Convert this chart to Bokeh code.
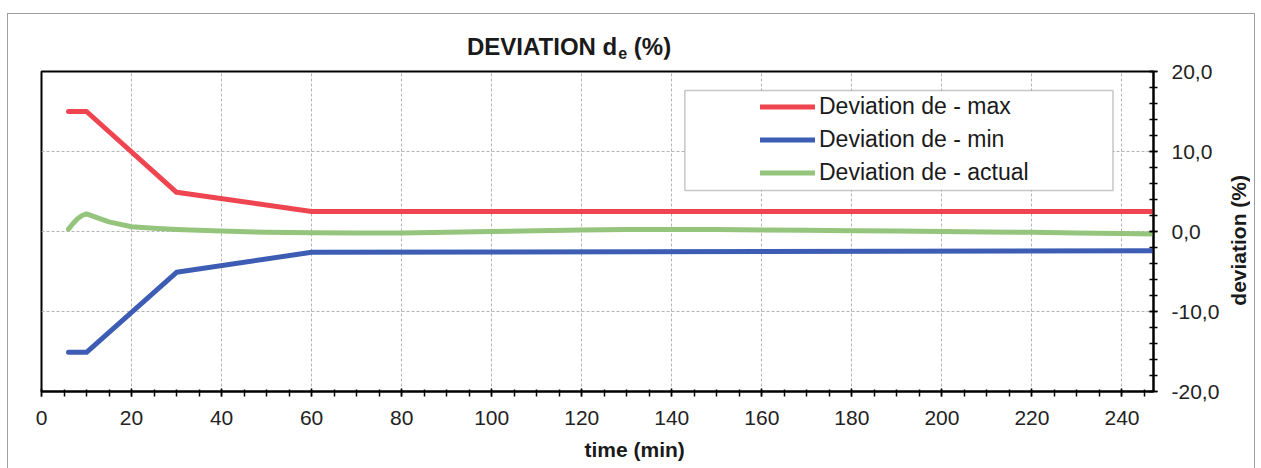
from bokeh.plotting import figure
from bokeh.models import (Range1d, FixedTicker, BoxAnnotation, Legend, LegendItem, Div, Title)
from bokeh.layouts import column, row
from bokeh.embed import file_html
from bokeh.resources import INLINE

# ---- data ----
t_max = [6, 10, 30, 60, 247]
dev_max = [15.0, 15.0, 4.9, 2.5, 2.5]

t_min = [6, 10, 30, 60, 247]
dev_min = [-15.1, -15.1, -5.1, -2.6, -2.4]

t_act = [6, 7, 8, 9, 10, 12, 15, 20, 25, 30, 40, 50, 60, 70, 80, 90, 100, 110, 120,
         130, 140, 150, 160, 170, 180, 190, 200, 210, 220, 230, 240, 247]
dev_act = [0.3, 1.0, 1.6, 2.0, 2.2, 1.8, 1.2, 0.6, 0.4, 0.25, 0.05, -0.1, -0.15, -0.2,
           -0.2, -0.1, 0.0, 0.1, 0.2, 0.25, 0.25, 0.25, 0.2, 0.15, 0.1, 0.05, 0.0,
           -0.05, -0.1, -0.2, -0.25, -0.3]

x_major = list(range(0, 241, 20))
x_minor = list(range(0, 247, 5))
y_major = [-20, -10, 0, 10, 20]
y_minor = list(range(-20, 21, 2))
y_labels = {-20: "-20,0", -10: "-10,0", 0: "0,0", 10: "10,0", 20: "20,0"}

names = ["Deviation de - max", "Deviation de - min", "Deviation de - actual"]
colors = ["#EF4550", "#3D5DB5", "#95C47C"]
title_main, title_sub, title_end = "DEVIATION d", "e", "(%)"
x_title = "time (min)"
y_title = "deviation (%)"

FONT = "Liberation Sans"

p = figure(width=1215, height=409, x_range=Range1d(0, 247), y_range=Range1d(-20, 20),
           y_axis_location="right", output_backend="svg", toolbar_location=None,
           min_border_left=33, min_border_top=12, min_border_right=70, min_border_bottom=77)
p.background_fill_color = "white"
p.border_fill_color = "white"
p.outline_line_color = "black"
p.outline_line_width = 2

# axes
xa = p.xaxis[0]
xa.ticker = FixedTicker(ticks=x_major, minor_ticks=x_minor)
ya = p.yaxis[0]
ya.ticker = FixedTicker(ticks=y_major, minor_ticks=y_minor)
ya.major_label_overrides = y_labels
for ax in (xa, ya):
    ax.axis_line_color = "black"
    ax.axis_line_width = 2
    ax.major_tick_line_color = "black"
    ax.minor_tick_line_color = "black"
    ax.major_tick_line_width = 1.5
    ax.minor_tick_line_width = 1.5
    ax.major_label_text_font = FONT
    ax.major_label_text_font_size = "21px"
    ax.major_label_text_color = "#222222"
xa.major_tick_in = 3
xa.major_tick_out = 5
xa.minor_tick_in = 2
xa.minor_tick_out = 5
xa.major_label_standoff = 14
ya.major_tick_in = 4
ya.major_tick_out = 4
ya.minor_tick_in = 4
ya.minor_tick_out = 4
ya.major_label_standoff = 14

for g in (p.xgrid[0], p.ygrid[0]):
    g.grid_line_color = "#b5b5b5"
    g.grid_line_dash = "3 2"
    g.grid_line_width = 1

# series
r1 = p.line(t_max, dev_max, line_color=colors[0], line_width=5, line_cap="round", line_join="round")
r2 = p.line(t_min, dev_min, line_color=colors[1], line_width=5, line_cap="round", line_join="round")
r3 = p.line(t_act, dev_act, line_color=colors[2], line_width=5, line_cap="round", line_join="round")

# legend box
p.add_layout(BoxAnnotation(left=142.9, right=238.0, top=17.625, bottom=5.125,
                           fill_color="white", fill_alpha=1, line_color="#444444", line_width=1.5))

legend = Legend(items=[LegendItem(label=names[0], renderers=[r1]),
                       LegendItem(label=names[1], renderers=[r2]),
                       LegendItem(label=names[2], renderers=[r3])],
                location=(719, 202), padding=0, spacing=0, margin=0,
                label_height=33, glyph_height=33, glyph_width=55, label_standoff=4,
                border_line_alpha=0, background_fill_alpha=0,
                label_text_font=FONT, label_text_font_size="23px", label_text_color="#1a1a1a")
p.add_layout(legend, "center")

# x axis title (offset to the right like the reference)
p.add_layout(Title(text=x_title, align="left", offset=543, text_font=FONT,
                   text_font_size="21px", text_font_style="bold", text_color="#1a1a1a",
                   standoff=16), "below")

title_html = (
    '<div style="margin-left:459px;margin-top:21px;font-family:\'Liberation Sans\';'
    'font-weight:bold;font-size:24px;line-height:24px;color:#1a1a1a;white-space:nowrap">'
    f'{title_main}<span style="font-size:16px;position:relative;top:4px;margin-left:1px">{title_sub}</span> {title_end}</div>'
)
div = Div(text=title_html, width=1246, height=45, margin=0)

ytitle_html = (
    '<div style="width:31px;height:362px;display:flex;align-items:center;justify-content:center">'
    '<span style="writing-mode:vertical-rl;transform:rotate(180deg);font-family:\'Liberation Sans\';'
    f'font-weight:bold;font-size:21px;line-height:24px;color:#1a1a1a;white-space:nowrap">{y_title}</span></div>'
)
ydiv = Div(text=ytitle_html, width=31, height=409, margin=0)

root = column(div, row(p, ydiv, spacing=0), margin=(13, 0, 0, 7), spacing=0,
              styles={"border-top": "1px solid #a0a0a0", "border-left": "1px solid #a0a0a0",
                      "border-right": "1px solid #a0a0a0"})

open("out.html", "w").write(file_html(root, INLINE))
